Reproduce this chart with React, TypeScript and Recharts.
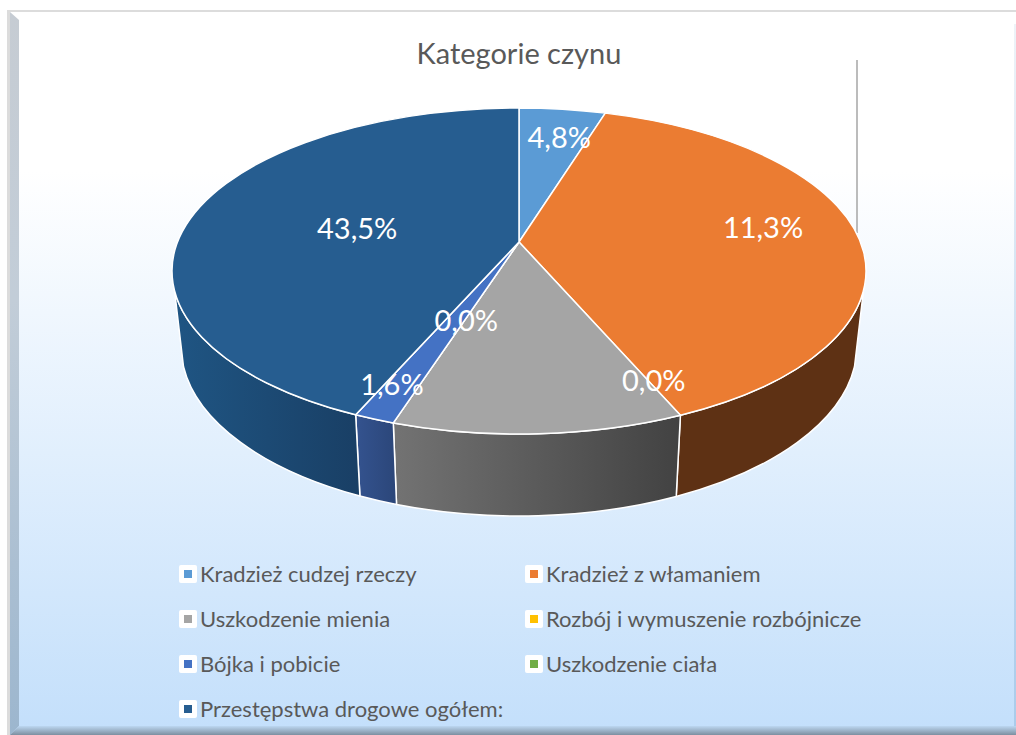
import React from 'react';
import { PieChart, Pie, Legend } from 'recharts';

const categories = [
  'Kradzież cudzej rzeczy',
  'Kradzież z włamaniem',
  'Uszkodzenie mienia',
  'Rozbój i wymuszenie rozbójnicze',
  'Bójka i pobicie',
  'Uszkodzenie ciała',
  'Przestępstwa drogowe ogółem:',
];
// slice sizes as drawn (the printed labels do not agree with them in the original)
const shares = [4.0, 38.3, 13.6, 0, 1.9, 0, 42.2];
const printedLabels = ['4,8%', '11,3%', '0,0%', '0,0%', '1,6%', '', '43,5%'];
const topColors = ['#5b9bd5', '#eb7c32', '#a5a5a5', '#ffc000', '#4472c4', '#70ad47', '#265d90'];

const chartData = categories.map((name, i) => ({ name, value: shares[i] }));

// wall shading, left -> right
const wallColors = [
  ['#3d6f9e', '#3d6f9e'],
  ['#5e3114', '#5e3114'],
  ['#737373', '#424242'],
  ['#8a6a00', '#8a6a00'],
  ['#34538f', '#2b4679'],
  ['#3f6a28', '#3f6a28'],
  ['#1f5583', '#193f65'],
];

// label shift from the default spot on each slice
const labelNudge = [
  [12, -19],
  [20, -22],
  [122, 13],
  [29, -40],
  [-33, 26],
  [0, 0],
  [57, -8],
];

const W = 1016;
const H = 735;
const TOP_RY = 163;
const TOP_DROP = 29; // ellipse centre sits below the apex (perspective)
const BOTTOM_RX_DIFF = 9;
const BOTTOM_RY = 170;
const BOTTOM_DROP = 104;
const WALL_FROM = 97;
const WALL_TO = 263;

const rad = (d: number) => (d * Math.PI) / 180;

const onEllipse = (cx: number, cy: number, rx: number, ry: number, t: number) => ({
  x: cx + rx * Math.sin(rad(t)),
  y: cy - ry * Math.cos(rad(t)),
});

const Slice3D = (props: any) => {
  const { cx, cy, outerRadius, startAngle, endAngle, index } = props;
  const t1 = 90 - startAngle;
  const t2 = 90 - endAngle;
  const rx = outerRadius;
  const a = onEllipse(cx, cy + TOP_DROP, rx, TOP_RY, t1);
  const b = onEllipse(cx, cy + TOP_DROP, rx, TOP_RY, t2);
  const large = t2 - t1 > 180 ? 1 : 0;
  const top = `M${cx},${cy} L${a.x},${a.y} A${rx},${TOP_RY} 0 ${large} 1 ${b.x},${b.y} Z`;

  const w1 = Math.max(t1, WALL_FROM);
  const w2 = Math.min(t2, WALL_TO);
  let wall = null;
  if (w2 > w1) {
    const rb = rx - BOTTOM_RX_DIFF;
    const p1 = onEllipse(cx, cy + TOP_DROP, rx, TOP_RY, w1);
    const p2 = onEllipse(cx, cy + TOP_DROP, rx, TOP_RY, w2);
    const q1 = onEllipse(cx, cy + BOTTOM_DROP, rb, BOTTOM_RY, w1);
    const q2 = onEllipse(cx, cy + BOTTOM_DROP, rb, BOTTOM_RY, w2);
    const d = `M${p1.x},${p1.y} A${rx},${TOP_RY} 0 0 1 ${p2.x},${p2.y} L${q2.x},${q2.y} A${rb},${BOTTOM_RY} 0 0 0 ${q1.x},${q1.y} Z`;
    wall = <path d={d} fill={`url(#wall${index})`} stroke="#ffffff" strokeWidth={1.5} strokeLinejoin="round" />;
  }

  return (
    <g>
      {wall}
      <path d={top} fill={topColors[index]} stroke="#ffffff" strokeWidth={1.5} strokeLinejoin="round" />
    </g>
  );
};

const renderLabel = (props: any) => {
  const { cx, cy, outerRadius, midAngle, index } = props;
  const text = printedLabels[index];
  if (!text) return null;
  const m = onEllipse(cx, cy + TOP_DROP, outerRadius, TOP_RY, 90 - midAngle);
  const x = cx + (m.x - cx) * 0.65 + labelNudge[index][0];
  const y = cy + (m.y - cy) * 0.65 + labelNudge[index][1];
  return (
    <text x={x} y={y} textAnchor="middle" dominantBaseline="central" fill="#ffffff" fontSize={29} fontFamily="Lato">
      {text}
    </text>
  );
};

const renderLegend = () => (
  <div style={{ position: 'absolute', left: 179, top: 551, width: 720, display: 'grid', gridTemplateColumns: '346px 374px', gridAutoRows: '45px', fontFamily: 'Lato', fontSize: 22, color: '#595959' }}>
    {categories.map((name, i) => (
      <div key={name} style={{ display: 'flex', alignItems: 'center', height: 45 }}>
        <span style={{ width: 18, height: 18, background: '#fff', borderRadius: 2, display: 'flex', alignItems: 'center', justifyContent: 'center', marginRight: 3 }}>
          <span style={{ width: 8, height: 8, background: topColors[i] }} />
        </span>
        {name}
      </div>
    ))}
  </div>
);

export default function App() {
  return (
    <div style={{ position: 'absolute', left: 0, top: 0, width: W, height: H, background: '#fff', overflow: 'hidden' }}>
      {/* frame + bevels */}
      <div style={{ position: 'absolute', left: 7, top: 10, right: 0, bottom: 0, background: '#dcdcdc' }} />
      <div style={{ position: 'absolute', left: 10, top: 12, right: 0, bottom: 0, background: 'linear-gradient(#ffffff 0%, #ffffff 22%, #c3dffb 100%)' }} />
      <div style={{ position: 'absolute', left: 10, top: 12, width: 9, bottom: 0, background: 'linear-gradient(#c6ccd3, #c2cdd8 40%, #9cb6ce)', clipPath: 'polygon(0 0, 100% 8px, 100% calc(100% - 9px), 0 100%)' }} />
      <div style={{ position: 'absolute', left: 10, right: 0, bottom: 0, height: 9, background: 'linear-gradient(#bcd7f1, #7d8fa0)', clipPath: 'polygon(0 100%, 9px 0, 100% 0, 100% 100%)' }} />
      <div style={{ position: 'absolute', right: 0, top: 24, width: 2, bottom: 9, background: 'linear-gradient(#eef3f8, #aacbea)' }} />

      <div style={{ position: 'absolute', left: 0, top: 0 }}>
        <PieChart width={W} height={H} margin={{ top: 0, right: 0, bottom: 0, left: 0 }}>
          <defs>
            {wallColors.map((c, i) => (
              <linearGradient key={i} id={`wall${i}`} x1="0" y1="0" x2="1" y2="0">
                <stop offset="0%" stopColor={c[0]} />
                <stop offset="100%" stopColor={c[1]} />
              </linearGradient>
            ))}
          </defs>
          <text x={519} y={52} textAnchor="middle" dominantBaseline="central" fontSize={29} fontFamily="Lato" fill="#595959">
            Kategorie czynu
          </text>
          <line x1={857} y1={60} x2={857} y2={233} stroke="#a6a6a6" strokeWidth={1.5} />
          <Pie
            data={chartData}
            dataKey="value"
            nameKey="name"
            cx={519}
            cy={242}
            outerRadius={347}
            startAngle={90}
            endAngle={-270}
            shape={Slice3D}
            label={renderLabel}
            labelLine={false}
            isAnimationActive={false}
          />
          <Legend content={renderLegend} wrapperStyle={{ left: 0, top: 0, width: 0, height: 0 }} />
        </PieChart>
      </div>
    </div>
  );
}
